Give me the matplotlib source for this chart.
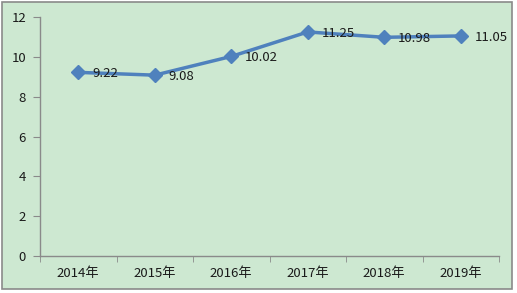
import matplotlib
matplotlib.use("Agg")
import matplotlib.pyplot as plt
from matplotlib.patches import Rectangle
import numpy as np

plt.rcParams['font.family'] = ['Noto Sans CJK SC', 'DejaVu Sans']

categories = ["2014年", "2015年", "2016年", "2017年", "2018年", "2019年"]
values = [9.22, 9.08, 10.02, 11.25, 10.98, 11.05]
labels = ["9.22", "9.08", "10.02", "11.25", "10.98", "11.05"]

W, H = 517, 293
fig = plt.figure(figsize=(W / 100, H / 100), dpi=100)
fig.patch.set_facecolor("white")
bg = "#cde8d1"
fig.add_artist(Rectangle((2 / W, 1 - 289 / H), 510 / W, 287 / H, transform=fig.transFigure,
                         facecolor=bg, edgecolor="#8a8a8a", linewidth=1.2, zorder=0))

ax = fig.add_axes([40 / W, (H - 256) / H, (499 - 40) / W, (256 - 17) / H])
ax.set_facecolor("none")
x = np.arange(len(categories))
ax.plot(x, values, color="#4f81bd", linewidth=2.5, marker="D", markersize=7,
        markerfacecolor="#4f81bd", markeredgecolor="#4f81bd", zorder=3)
for xi, v, lab in zip(x, values, labels):
    ax.annotate(lab, (xi, v), xytext=(10, -1), textcoords="offset points",
                ha="left", va="center", fontsize=9.5, color="#1a1a1a", zorder=4)

ax.set_xlim(-0.5, len(categories) - 0.5)
ax.set_ylim(0, 12)
ax.set_yticks(np.arange(0, 13, 2))
ax.set_xticks(x)
ax.set_xticklabels(categories)
ax.set_xticks(np.arange(-0.5, len(categories), 1), minor=True)
ax.tick_params(axis="x", which="major", length=0, pad=8, labelsize=9.5, labelcolor="#1a1a1a")
ax.tick_params(axis="x", which="minor", length=4, color="#8a8a8a", direction="out")
ax.tick_params(axis="y", length=5, color="#8a8a8a", direction="out", labelsize=9.5,
               labelcolor="#1a1a1a", pad=5)
for s in ["top", "right"]:
    ax.spines[s].set_visible(False)
for s in ["left", "bottom"]:
    ax.spines[s].set_color("#8a8a8a")
    ax.spines[s].set_linewidth(1.0)

fig.savefig("out.png", dpi=100)
